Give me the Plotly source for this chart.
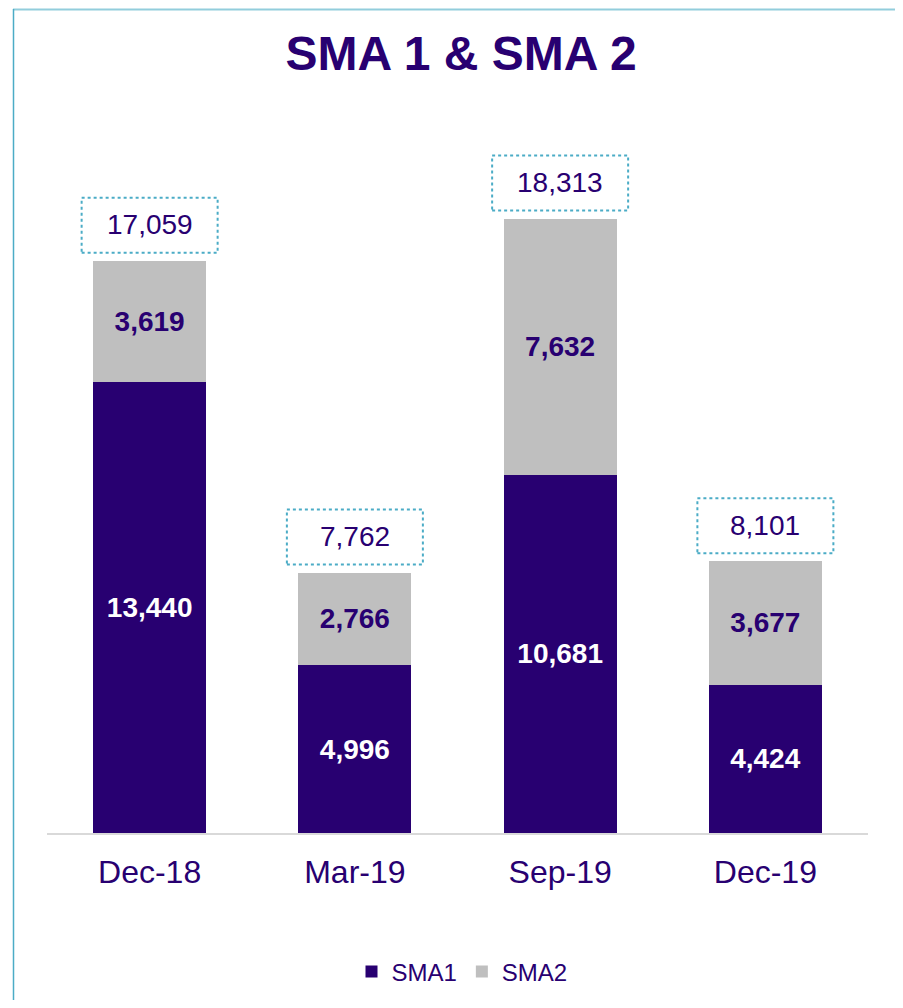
import plotly.graph_objects as go

categories = ["Dec-18", "Mar-19", "Sep-19", "Dec-19"]
sma1 = [13440, 4996, 10681, 4424]
sma2 = [3619, 2766, 7632, 3677]
totals = [17059, 7762, 18313, 8101]

PURPLE = "#280071"
GRAY = "#BFBFBF"
TEAL = "#4BACC6"
FONT = "Liberation Sans, Arial, sans-serif"

OFF = 8  # page body margin
W, H = 903 - 2 * OFF, 1008 - 2 * OFF
# page-pixel layout of the reference
PL, PR, PT, PB = 47, 868, 130, 833
YMAX = 20000 * (PB - PT) / (833 - 162)
ML, MT = PL - OFF, PT - OFF
MR = W - (PR - OFF)
MB = H - (PB - OFF)
PW, PH = PR - PL, PB - PT

def px_x(p):
    return (p - PL) / PW

def px_y(p):
    return (PB - p) / PH

fig = go.Figure()
fig.add_trace(go.Bar(
    x=categories, y=sma1, name="SMA1",
    marker=dict(color=PURPLE, line=dict(width=0)),
    text=[f"{v:,}" for v in sma1], textposition="inside",
    insidetextanchor="middle", textangle=0,
    textfont=dict(family=FONT, size=28, color="white", weight="bold"),
))
fig.add_trace(go.Bar(
    x=categories, y=sma2, name="SMA2",
    marker=dict(color=GRAY, line=dict(width=0)),
    text=[f"{v:,}" for v in sma2], textposition="inside",
    insidetextanchor="middle", textangle=0,
    textfont=dict(family=FONT, size=28, color=PURPLE, weight="bold"),
))

shapes = []
annotations = []
for c, t in zip(categories, totals):
    shapes.append(dict(
        type="rect", xref="x", yref="y",
        xsizemode="pixel", ysizemode="pixel",
        xanchor=c, yanchor=t,
        x0=-68, x1=68, y0=8, y1=63,
        line=dict(color=TEAL, width=2, dash="dot"),
        fillcolor="rgba(0,0,0,0)",
    ))
    annotations.append(dict(
        x=c, y=t, xref="x", yref="y", text=f"{t:,}",
        showarrow=False, yanchor="middle", yshift=36,
        font=dict(family=FONT, size=28, color=PURPLE),
    ))

# outer frame lines (top and left)
shapes.append(dict(type="line", xref="paper", yref="paper",
                   x0=px_x(13), x1=px_x(903), y0=px_y(9.5), y1=px_y(9.5),
                   line=dict(color="#92CDDC", width=2)))
shapes.append(dict(type="line", xref="paper", yref="paper",
                   x0=px_x(13.5), x1=px_x(13.5), y0=px_y(9), y1=px_y(1008),
                   line=dict(color=TEAL, width=1.5)))

fig.update_layout(
    width=W, height=H,
    margin=dict(l=ML, r=MR, t=MT, b=MB, autoexpand=False),
    barmode="stack", bargap=0.45,
    paper_bgcolor="white", plot_bgcolor="white",
    font=dict(family=FONT, color=PURPLE),
    title=dict(text="<b>SMA 1 & SMA 2</b>", xref="paper", x=px_x(461), xanchor="center",
               y=1 - (53 - OFF) / H, yanchor="middle", yref="container",
               font=dict(family=FONT, size=48, color=PURPLE)),
    showlegend=True,
    legend=dict(orientation="h", x=px_x(462), xanchor="center",
                y=px_y(972), yanchor="middle",
                font=dict(family=FONT, size=24, color=PURPLE),
                traceorder="normal"),
    xaxis=dict(showline=True, linecolor="#D9D9D9", linewidth=2,
               showgrid=False, ticks="", ticklabelstandoff=10,
               tickfont=dict(family=FONT, size=32, color=PURPLE)),
    yaxis=dict(range=[0, YMAX], visible=False, showgrid=False, zeroline=False),
    shapes=shapes, annotations=annotations,
)

fig.write_html("out.html")
